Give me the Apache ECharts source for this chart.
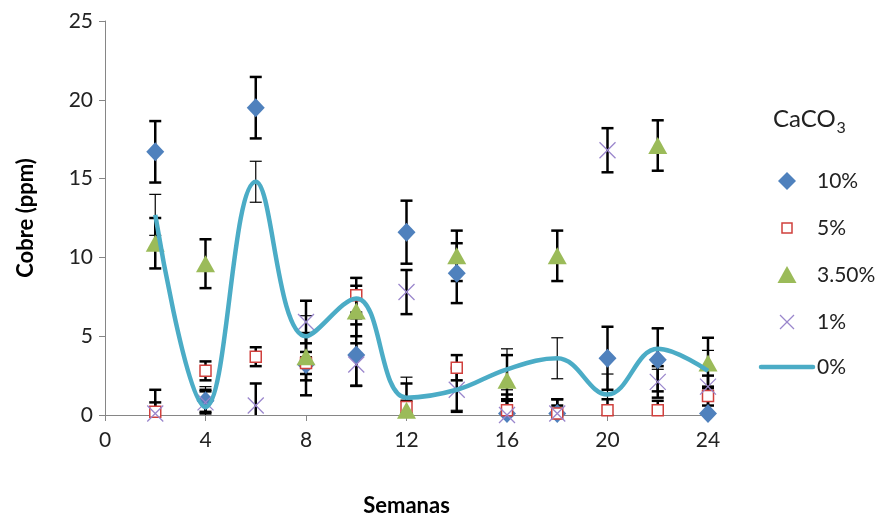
<!DOCTYPE html>
<html>
<head>
<meta charset="utf-8">
<script src="https://cdn.jsdelivr.net/npm/echarts@6/dist/echarts.min.js"></script>
<style>
  html, body { margin: 0; padding: 0; background: #fff; }
  #chart { width: 886px; height: 521px; }
</style>
</head>
<body>
<div id="chart"></div>
<script>
// semanas
const weeks = [2, 4, 6, 8, 10, 12, 14, 16, 18, 20, 22, 24];

// CaCO3 10%
const cu10 = [16.7, 0.9, 19.5, 3.2, 3.8, 11.6, 9.0, 0.1, 0.1, 3.6, 3.5, 0.1];
const err10 = [1.95, 0.7, 1.95, 1.95, 1.95, 2.0, 1.9, 1.2, 0.9, 2.0, 2.0, 1.2];
// 5%
const cu5 = [0.2, 2.8, 3.7, 3.3, 7.6, 0.5, 3.0, 0.3, 0.1, 0.3, 0.3, 1.2];
const err5 = [0.6, 0.6, 0.6, 0.7, 1.1, 0.4, 0.8, 0.6, 0.5, 0.7, 0.6, 0.6];
// 3.50%
const cu35 = [10.9, 9.6, null, 3.7, 6.6, 0.3, 10.1, 2.2, 10.1, null, 17.1, 3.3];
const err35 = [1.6, 1.55, 0, 1.5, 1.6, 1.7, 1.6, 1.6, 1.6, 0, 1.6, 1.6];
// 1%
const cu1 = [0.1, 0.8, 0.6, 5.9, 3.2, 7.8, 1.6, 0.0, 0.1, 16.8, 2.1, 1.8];
const err1 = [1.5, 0.7, 1.4, 1.35, 1.35, 1.4, 1.4, 1.0, 0.9, 1.4, 1.0, 0.7];
// 0%
const cu0 = [12.7, 0.5, 14.8, 5.0, 7.4, 1.1, 1.6, 2.9, 3.6, 1.3, 4.2, 2.8];
const err0 = [1.3, 1.3, 1.3, 1.3, 1.3, 1.3, 1.3, 1.3, 1.3, 1.3, 1.3, 1.3];

const seriesNames = ['10%', '5%', '3.50%', '1%', '0%'];

const FONT = 'Lato';
const C10 = '#4F81BD', C5 = '#D0403D', C35 = '#9BBB59', C1 = '#9A86CC', C0 = '#4BACC6';

const pairs = (vals) => weeks.map((w, i) => [w, vals[i]]).filter(d => d[1] != null);
const errData = (vals, errs) => weeks.map((w, i) => [w, vals[i], errs[i]]).filter(d => d[1] != null && d[2] > 0);

// barras de error
const errorSeries = (name, vals, errs, width) => ({
  name: name,
  type: 'custom',
  z: 2,
  silent: true,
  data: errData(vals, errs),
  encode: { x: 0, y: 1 },
  renderItem: (params, api) => {
    const x = api.value(0), y = api.value(1), e = api.value(2);
    const top = api.coord([x, y + e]);
    const lowVal = y - e;
    const bot = api.coord([x, Math.max(0, lowVal)]);
    const cap = 6;
    const style = { stroke: '#000', lineWidth: width };
    const children = [
      { type: 'line', shape: { x1: top[0], y1: top[1], x2: bot[0], y2: bot[1] }, style },
      { type: 'line', shape: { x1: top[0] - cap, y1: top[1], x2: top[0] + cap, y2: top[1] }, style }
    ];
    if (lowVal >= 0) {
      children.push({ type: 'line', shape: { x1: bot[0] - cap, y1: bot[1], x2: bot[0] + cap, y2: bot[1] }, style });
    }
    return { type: 'group', children };
  }
});

// leyenda dibujada a mano (iconos de distinto tamaño)
const legendCenterY = [181, 228, 275, 322, 367];
const iconX = 787;
const textX = 817;
const legendIconFor = (name, cy) => {
  switch (name) {
    case '10%':
      return { type: 'polygon', shape: { points: [[iconX, cy - 9], [iconX + 9, cy], [iconX, cy + 9], [iconX - 9, cy]] }, style: { fill: C10 } };
    case '5%':
      return { type: 'rect', shape: { x: iconX - 5, y: cy - 5, width: 10, height: 10 }, style: { fill: '#fff', stroke: C5, lineWidth: 1.5 } };
    case '3.50%':
      return { type: 'polygon', shape: { points: [[iconX, cy - 9], [iconX + 9.5, cy + 8], [iconX - 9.5, cy + 8]] }, style: { fill: C35 } };
    case '1%':
      return { type: 'group', children: [
        { type: 'line', shape: { x1: iconX - 7, y1: cy - 7, x2: iconX + 7, y2: cy + 7 }, style: { stroke: C1, lineWidth: 1.3 } },
        { type: 'line', shape: { x1: iconX + 7, y1: cy - 7, x2: iconX - 7, y2: cy + 7 }, style: { stroke: C1, lineWidth: 1.3 } }
      ] };
    default:
      return { type: 'line', shape: { x1: iconX - 26, y1: cy, x2: iconX + 26, y2: cy }, style: { stroke: C0, lineWidth: 4.5, lineCap: 'round' } };
  }
};
const legendGraphics = [];
seriesNames.forEach((name, i) => {
  const cy = legendCenterY[i];
  legendGraphics.push(legendIconFor(name, cy));
  legendGraphics.push({ type: 'text', x: textX, y: cy, style: { text: name, font: '21px ' + FONT, fill: '#222', textVerticalAlign: 'middle', verticalAlign: 'middle' } });
});

// título de la leyenda: CaCO + subíndice 3
const measure = document.createElement('canvas').getContext('2d');
measure.font = '24px ' + FONT;
const cacoW = measure.measureText('CaCO').width;
legendGraphics.push({ type: 'text', x: 773, y: 107, style: { text: 'CaCO', font: '24px ' + FONT, fill: '#222' } });
legendGraphics.push({ type: 'text', x: 773 + cacoW + 1, y: 120, style: { text: '3', font: '16px ' + FONT, fill: '#222' } });

const chart = echarts.init(document.getElementById('chart'), null, { renderer: 'canvas' });

const option = {
  animation: false,
  backgroundColor: '#fff',
  grid: { left: 105, right: 178, top: 21, bottom: 106, outerBoundsMode: 'none', containLabel: false },
  xAxis: {
    type: 'value',
    min: 0, max: 24, interval: 4,
    name: 'Semanas',
    nameLocation: 'middle',
    nameGap: 80,
    nameTextStyle: { fontFamily: FONT, fontSize: 22, fontWeight: 'bold', color: '#000' },
    axisLine: { show: true, onZero: false, lineStyle: { color: '#868686', width: 1 } },
    axisTick: { show: true, length: 6, lineStyle: { color: '#868686' } },
    axisLabel: { fontFamily: FONT, fontSize: 21, color: '#222', margin: 15 },
    splitLine: { show: false }
  },
  yAxis: {
    type: 'value',
    min: 0, max: 25, interval: 5,
    name: 'Cobre (ppm)',
    nameLocation: 'middle',
    nameGap: 68,
    nameTextStyle: { fontFamily: FONT, fontSize: 22, fontWeight: 'bold', color: '#000' },
    axisLine: { show: true, lineStyle: { color: '#868686', width: 1 } },
    axisTick: { show: true, length: 6, lineStyle: { color: '#868686' } },
    axisLabel: { fontFamily: FONT, fontSize: 21, color: '#222', margin: 12 },
    splitLine: { show: false }
  },
  graphic: legendGraphics,
  series: [
    errorSeries('e10', cu10, err10, 2.5),
    errorSeries('e5', cu5, err5, 2.5),
    errorSeries('e35', cu35, err35, 2.5),
    errorSeries('e1', cu1, err1, 2.5),
    errorSeries('e0', cu0, err0, 1.2),
    {
      name: '10%', type: 'scatter', z: 3,
      data: pairs(cu10),
      symbol: 'diamond', symbolSize: [18, 19],
      itemStyle: { color: C10, opacity: 1 }
    },
    {
      name: '5%', type: 'scatter', z: 3,
      data: pairs(cu5),
      symbol: 'rect', symbolSize: 11,
      itemStyle: { color: '#fff', borderColor: C5, borderWidth: 1.5, opacity: 1 }
    },
    {
      name: '3.50%', type: 'scatter', z: 3,
      data: pairs(cu35),
      symbol: 'triangle', symbolSize: [19, 17],
      itemStyle: { color: C35, opacity: 1 }
    },
    {
      name: '1%', type: 'scatter', z: 3,
      data: pairs(cu1),
      symbol: 'path://M0,0L10,10M10,0L0,10', symbolSize: 16,
      itemStyle: { color: 'none', borderColor: C1, borderWidth: 1.3, opacity: 1 }
    },
    {
      name: '0%', type: 'line', z: 4,
      data: pairs(cu0),
      smooth: 0.4,
      symbol: 'none',
      lineStyle: { color: C0, width: 4.5 },
      itemStyle: { color: C0 }
    }
  ]
};

chart.setOption(option);
</script>
</body>
</html>
